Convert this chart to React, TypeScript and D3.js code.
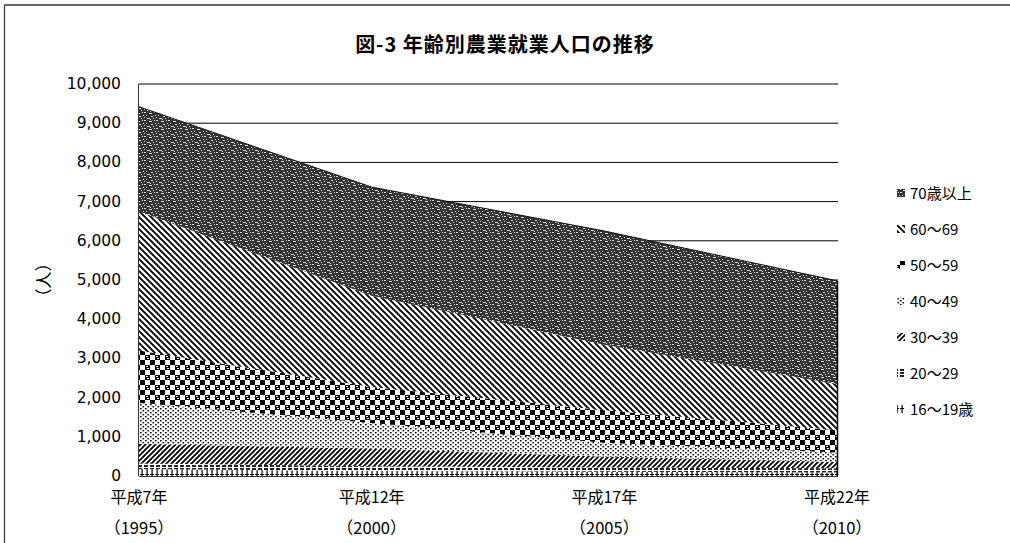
import React from 'react';
import * as d3 from 'd3';

// 年次ラベル
const years = ['平成7年', '平成12年', '平成17年', '平成22年'];
const westernYears = ['（1995）', '（2000）', '（2005）', '（2010）'];

// 年齢別農業就業人口（人）
const age1619 = [180, 130, 110, 90];
const age2029 = [140, 120, 110, 110];
const age3039 = [500, 450, 280, 160];
const age4049 = [1050, 650, 350, 240];
const age5059 = [1330, 920, 830, 570];
const age6069 = [3550, 2330, 1670, 1180];
const age70 = [2670, 2770, 2900, 2630];

const seriesKeys = ['16〜19歳', '20〜29', '30〜39', '40〜49', '50〜59', '60〜69', '70歳以上'];
const seriesValues = [age1619, age2029, age3039, age4049, age5059, age6069, age70];
const yTicks = [0, 1000, 2000, 3000, 4000, 5000, 6000, 7000, 8000, 9000, 10000];

const patternIds = ['p16', 'p20', 'p30', 'p40', 'p50', 'p60', 'p70'];

// noise-like dashes for the 70+ pattern
const speckles = [
  [0, 0, 2, 1], [5, 1, 3, 1], [10, 0, 1, 1], [2, 3, 1, 1], [7, 4, 2, 1],
  [11, 3, 1, 1], [3, 6, 3, 1], [9, 6, 1, 1], [0, 5, 1, 1], [6, 7, 1, 1],
];

const width = 1010;
const height = 543;
const left = 139;
const right = 837;
const top = 84;
const bottom = 476;

const App = () => {
  const x = d3.scaleLinear().domain([0, years.length - 1]).range([left, right]);
  const y = d3.scaleLinear().domain([0, 10000]).range([bottom, top]);

  const table = years.map((yr, i) => {
    const row: any = { year: yr };
    seriesKeys.forEach((k, j) => { row[k] = seriesValues[j][i]; });
    return row;
  });
  const stacked = d3.stack().keys(seriesKeys)(table);
  const area = d3.area<any>()
    .x((d, i) => x(i))
    .y0(d => y(d[0]))
    .y1(d => y(d[1]));

  const cjk = '"Noto Sans CJK JP", sans-serif';
  const legendTop = 194;
  const legendStep = 36;

  return (
    <svg width={width} height={height} style={{ position: 'absolute', left: 0, top: 0, background: '#fff' }}>
      <defs>
        <pattern id="p70" width="12" height="8" patternUnits="userSpaceOnUse">
          <rect width="12" height="8" fill="#333" />
          {speckles.map((s, i) => (
            <rect key={i} x={s[0]} y={s[1]} width={s[2]} height={s[3]} fill="#ddd" />
          ))}
        </pattern>
        <pattern id="p60" width="6" height="6" patternUnits="userSpaceOnUse">
          <rect width="6" height="6" fill="#fff" />
          <path d="M0,0 L6,6 M-1,5 L1,7 M5,-1 L7,1" stroke="#000" strokeWidth="1.9" />
        </pattern>
        <pattern id="p50" width="10" height="10" patternUnits="userSpaceOnUse">
          <rect width="10" height="10" fill="#fff" />
          <rect x="0" y="0" width="5" height="5" fill="#000" />
          <rect x="5" y="5" width="5" height="5" fill="#000" />
          <rect x="6" y="6" width="2" height="1" fill="#fff" />
          <rect x="7" y="8" width="2" height="1" fill="#fff" />
        </pattern>
        <pattern id="p40" width="5" height="4" patternUnits="userSpaceOnUse">
          <rect width="5" height="4" fill="#fff" />
          <rect x="0" y="0" width="1.6" height="1.4" fill="#000" />
          <rect x="2.5" y="2" width="1.6" height="1.4" fill="#000" />
        </pattern>
        <pattern id="p30" width="5" height="5" patternUnits="userSpaceOnUse">
          <rect width="5" height="5" fill="#fff" />
          <path d="M0,5 L5,0 M-1,1 L1,-1 M4,6 L6,4" stroke="#000" strokeWidth="1.8" />
        </pattern>
        <pattern id="p20" width="6" height="3" patternUnits="userSpaceOnUse">
          <rect width="6" height="3" fill="#fff" />
          <rect x="0" y="0" width="4" height="2" fill="#222" />
        </pattern>
        <pattern id="p16" width="5" height="6" patternUnits="userSpaceOnUse">
          <rect width="5" height="6" fill="#fff" />
          <rect x="1.5" y="0" width="1.2" height="6" fill="#000" />
          <rect x="0" y="0" width="4" height="1" fill="#000" />
        </pattern>
      </defs>

      {/* outer frame */}
      <line x1={4.5} y1={5} x2={width} y2={5} stroke="#333" strokeWidth="1.5" />
      <line x1={4.5} y1={5} x2={4.5} y2={height} stroke="#333" strokeWidth="1.2" />

      <text x={505} y={52} textAnchor="middle" fontFamily={cjk} fontWeight="bold" fontSize="20" letterSpacing="1">
        図-3 年齢別農業就業人口の推移
      </text>

      {/* grid */}
      {yTicks.filter(t => t > 0).map(t => (
        <line key={t} x1={left} x2={right + 1} y1={y(t)} y2={y(t)} stroke="#000" strokeWidth="1" />
      ))}

      {/* areas */}
      {stacked.map((s, i) => (
        <path key={s.key} d={area(s as any) || ''} fill={`url(#${patternIds[i]})`} />
      ))}
      <path
        d={d3.line<any>().x((d, i) => x(i)).y(d => y(d[1]))(stacked[stacked.length - 1] as any) || ''}
        fill="none" stroke="#111" strokeWidth="1"
      />
      <line x1={right + 0.5} x2={right + 0.5} y1={y(stacked[6][3][1])} y2={bottom} stroke="#000" strokeWidth="1.5" />

      {/* axes */}
      <line x1={left - 0.5} x2={left - 0.5} y1={top} y2={bottom} stroke="#333" strokeWidth="1" />
      <line x1={left} x2={right + 1} y1={bottom + 0.5} y2={bottom + 0.5} stroke="#333" strokeWidth="1" />

      {yTicks.map(t => (
        <text key={t} x={121} y={y(t) + 5} textAnchor="end" fontFamily='"DejaVu Sans", sans-serif' fontSize="15.5">
          {d3.format(',')(t)}
        </text>
      ))}

      <text transform={`translate(50,${(top + bottom) / 2}) rotate(-90)`} textAnchor="middle" fontFamily={cjk} fontSize="17">
        （人）
      </text>

      {years.map((yr, i) => (
        <g key={yr}>
          <text x={x(i)} y={503} textAnchor="middle" fontFamily={cjk} fontSize="16">{yr}</text>
          <text x={x(i)} y={534} textAnchor="middle" fontFamily={cjk} fontSize="16.5">{westernYears[i]}</text>
        </g>
      ))}

      {/* legend, top item is the top series */}
      {seriesKeys.slice().reverse().map((k, i) => {
        const idx = seriesKeys.length - 1 - i;
        const cy = legendTop + i * legendStep;
        return (
          <g key={k}>
            <rect x={897} y={cy - 5} width={8} height={8} fill={`url(#${patternIds[idx]})`} />
            <text x={910} y={cy + 5} fontFamily={cjk} fontSize="15">{k}</text>
          </g>
        );
      })}
    </svg>
  );
};

export default App;
